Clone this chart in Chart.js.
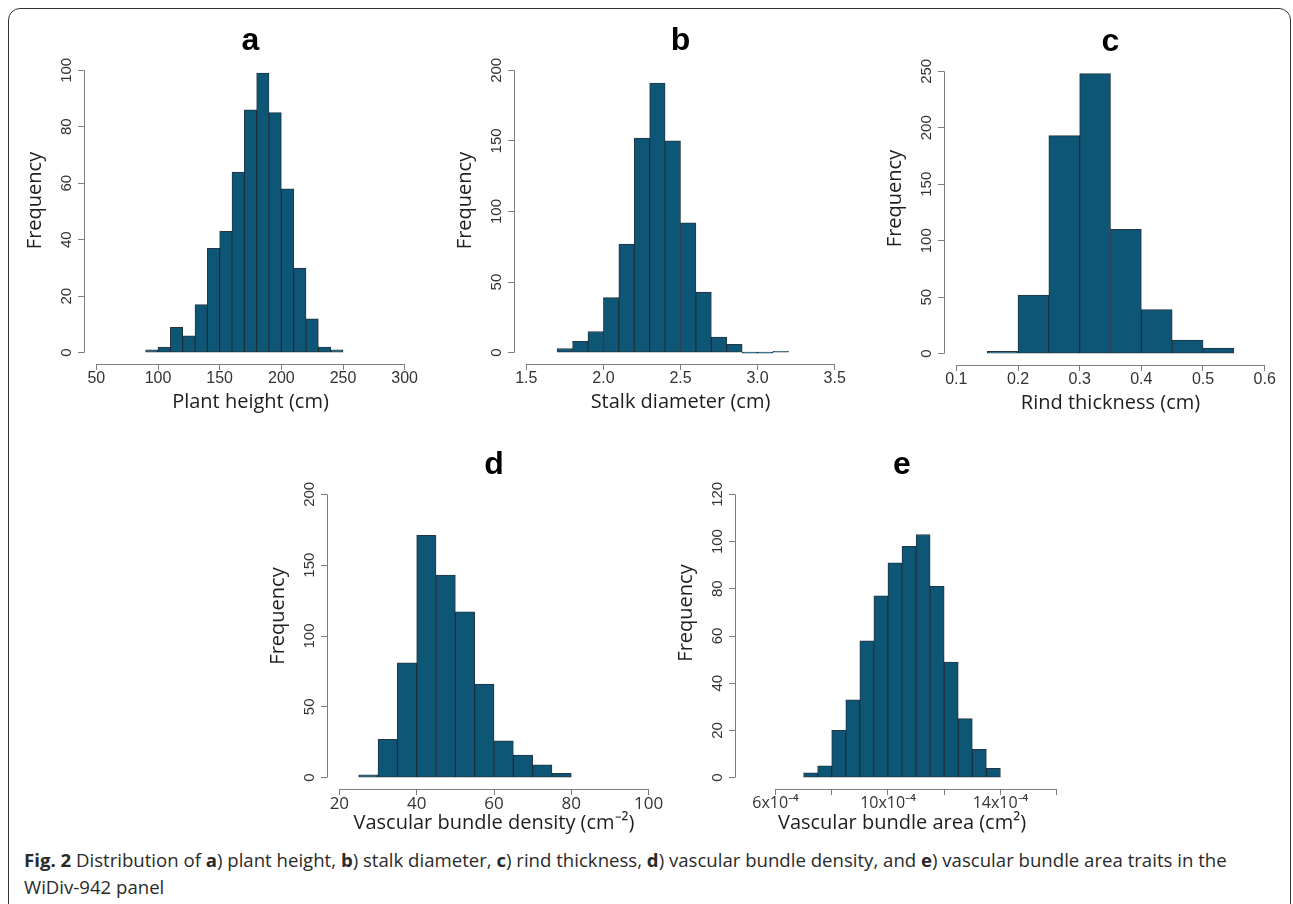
<!DOCTYPE html>
<html>
<head>
<meta charset="utf-8">
<title>Fig. 2 trait distributions</title>
<script src="https://cdn.jsdelivr.net/npm/chart.js@4.4.0/dist/chart.umd.min.js"></script>
<style>
    html, body { margin: 0; padding: 0; background: #fff; overflow: hidden; }
    body { width: 1293px; height: 904px; position: relative; font-family: "Open Sans", sans-serif; }
    .frame { position: absolute; left: 8px; top: 8px; width: 1281px; height: 940px; border: 1.5px solid #333; border-radius: 12px; }
    .panel { position: absolute; }
    .caption { position: absolute; left: 24px; top: 846px; font-size: 18.6px; line-height: 27px; color: #2a2a2a; white-space: nowrap; }
    .caption b { font-weight: 700; }
</style>
</head>
<body>
<div class="frame"></div>
<div class="panel" id="panel-a"><canvas id="chart-a"></canvas></div>
<div class="panel" id="panel-b"><canvas id="chart-b"></canvas></div>
<div class="panel" id="panel-c"><canvas id="chart-c"></canvas></div>
<div class="panel" id="panel-d"><canvas id="chart-d"></canvas></div>
<div class="panel" id="panel-e"><canvas id="chart-e"></canvas></div>
<div class="caption"><b>Fig. 2</b> Distribution of <b>a</b>) plant height, <b>b</b>) stalk diameter, <b>c</b>) rind thickness, <b>d</b>) vascular bundle density, and <b>e</b>) vascular bundle area traits in the<br>WiDiv-942 panel</div>

<script>
// a) plant height (cm)
var heightEdges = [90, 100, 110, 120, 130, 140, 150, 160, 170, 180, 190, 200, 210, 220, 230, 240, 250];
var heightCounts = [1, 2, 9, 6, 17, 37, 43, 64, 86, 99, 85, 58, 30, 12, 2, 1];
var heightXTicks = [50, 100, 150, 200, 250, 300];
var heightXLabels = ['50', '100', '150', '200', '250', '300'];
var heightYTicks = [0, 20, 40, 60, 80, 100];

// b) stalk diameter (cm)
var stalkEdges = [1.7, 1.8, 1.9, 2.0, 2.1, 2.2, 2.3, 2.4, 2.5, 2.6, 2.7, 2.8, 2.9, 3.0, 3.1, 3.2];
var stalkCounts = [3, 8, 15, 39, 77, 152, 191, 150, 92, 43, 11, 6, 0, 0, 1];
var stalkXTicks = [1.5, 2.0, 2.5, 3.0, 3.5];
var stalkXLabels = ['1.5', '2.0', '2.5', '3.0', '3.5'];
var stalkYTicks = [0, 50, 100, 150, 200];

// c) rind thickness (cm)
var rindEdges = [0.15, 0.2, 0.25, 0.3, 0.35, 0.4, 0.45, 0.5, 0.55];
var rindCounts = [2, 52, 193, 248, 110, 39, 12, 5];
var rindXTicks = [0.1, 0.2, 0.3, 0.4, 0.5, 0.6];
var rindXLabels = ['0.1', '0.2', '0.3', '0.4', '0.5', '0.6'];
var rindYTicks = [0, 50, 100, 150, 200, 250];

// d) vascular bundle density (cm-2)
var densityEdges = [25, 30, 35, 40, 45, 50, 55, 60, 65, 70, 75, 80];
var densityCounts = [2, 27, 81, 171, 143, 117, 66, 26, 16, 9, 3];
var densityXTicks = [20, 40, 60, 80, 100];
var densityXLabels = ['20', '40', '60', '80', '100'];
var densityYTicks = [0, 50, 100, 150, 200];

// e) vascular bundle area (cm2)
var areaEdges = [7.0e-4, 7.5e-4, 8.0e-4, 8.5e-4, 9.0e-4, 9.5e-4, 10.0e-4, 10.5e-4, 11.0e-4, 11.5e-4, 12.0e-4, 12.5e-4, 13.0e-4, 13.5e-4, 14.0e-4];
var areaCounts = [2, 5, 20, 33, 58, 77, 91, 98, 103, 81, 49, 25, 12, 4];
var areaXTicks = [6e-4, 8e-4, 10e-4, 12e-4, 14e-4, 16e-4];
var areaXLabels = ['6x10\u207B\u2074', '', '10x10\u207B\u2074', '', '14x10\u207B\u2074', ''];
var areaYTicks = [0, 20, 40, 60, 80, 100, 120];

var BAR_FILL = '#0e5676';
var BAR_EDGE = 'rgba(12, 32, 45, 0.9)';
var AXIS_COLOR = '#7d7d7d';
var TICK_TEXT = '#333333';
var LABEL_TEXT = '#1e1e1e';

/**
 * R-style axes: lines only from first to last tick, rotated y labels
 */
var rAxesPlugin = {
    id: 'rAxes',
    afterDraw: function(chart, args, opts) {
        var ctx = chart.ctx;
        var area = chart.chartArea;
        var xs = chart.scales.x;
        var ys = chart.scales.y;
        var xLast = xs.ticks.length - 1;
        var yLast = ys.ticks.length - 1;

        ctx.save();
        ctx.strokeStyle = AXIS_COLOR;
        ctx.lineWidth = 1;
        ctx.beginPath();
        var xb = Math.round(area.bottom) + 0.5;
        ctx.moveTo(xs.getPixelForValue(xs.ticks[0].value), xb);
        ctx.lineTo(xs.getPixelForValue(xs.ticks[xLast].value), xb);
        var yl = Math.round(area.left) + 0.5;
        ctx.moveTo(yl, ys.getPixelForValue(ys.ticks[0].value));
        ctx.lineTo(yl, ys.getPixelForValue(ys.ticks[yLast].value));
        ctx.stroke();

        // y tick labels, turned like in R
        ctx.fillStyle = TICK_TEXT;
        ctx.font = '15px "Liberation Sans", Arial, sans-serif';
        ctx.textAlign = 'center';
        ctx.textBaseline = 'middle';
        ys.ticks.forEach(function(t) {
            ctx.save();
            ctx.translate(area.left - 17.5, ys.getPixelForValue(t.value));
            ctx.rotate(-Math.PI / 2);
            ctx.fillText(String(t.value), 0, 0);
            ctx.restore();
        });

        // y axis title
        ctx.fillStyle = LABEL_TEXT;
        ctx.font = '20px "Open Sans", sans-serif';
        ctx.translate(area.left - 48.5, (area.top + area.bottom) / 2 - opts.shift);
        ctx.rotate(-Math.PI / 2);
        ctx.fillText(opts.text, 0, 0);
        ctx.restore();
    }
};

function histChart(cfg) {
    var box = document.getElementById(cfg.box);
    box.style.left = (cfg.left - 75) + 'px';
    box.style.top = (cfg.top - 50) + 'px';
    box.style.width = (75 + cfg.width + 30) + 'px';
    box.style.height = (50 + cfg.height + cfg.below) + 'px';

    var points = [];
    for (var i = 0; i < cfg.counts.length; i++) {
        points.push({ x: (cfg.edges[i] + cfg.edges[i + 1]) / 2, y: cfg.counts[i] });
    }

    var xPad = (cfg.xlim[1] - cfg.xlim[0]) * 0.04;
    var yTop = cfg.yTicks[cfg.yTicks.length - 1];
    var yPad = yTop * 0.04;

    return new Chart(document.getElementById(cfg.canvas), {
        type: 'bar',
        data: {
            datasets: [{
                data: points,
                backgroundColor: BAR_FILL,
                borderColor: BAR_EDGE,
                borderWidth: 1,
                borderSkipped: false,
                minBarLength: 1,
                barPercentage: 1,
                categoryPercentage: 1
            }]
        },
        plugins: [rAxesPlugin],
        options: {
            responsive: true,
            maintainAspectRatio: false,
            animation: false,
            layout: { padding: { left: 0, right: 30, top: 0, bottom: 0 }, autoPadding: false },
            plugins: {
                legend: { display: false },
                tooltip: { enabled: false },
                title: {
                    display: true,
                    text: cfg.letter,
                    fullSize: false,
                    color: '#000',
                    font: { family: '"Liberation Sans", Arial, sans-serif', size: 32, weight: 'bold', lineHeight: 1 },
                    padding: { top: 16, bottom: 2 }
                },
                rAxes: { text: 'Frequency', shift: cfg.yShift }
            },
            scales: {
                x: {
                    type: 'linear',
                    offset: false,
                    min: cfg.xlim[0] - xPad,
                    max: cfg.xlim[1] + xPad,
                    afterBuildTicks: function(scale) {
                        scale.ticks = cfg.xTicks.map(function(v) { return { value: v }; });
                    },
                    afterFit: function(scale) { scale.height = cfg.below; },
                    border: { display: false },
                    grid: { display: true, offset: false, drawOnChartArea: false, drawTicks: true, tickLength: 6, color: AXIS_COLOR },
                    ticks: {
                        autoSkip: false,
                        maxRotation: 0,
                        padding: -1,
                        color: TICK_TEXT,
                        font: cfg.tickFont,
                        callback: function(value, index) { return cfg.xLabels[index]; }
                    },
                    title: {
                        display: true,
                        text: cfg.xTitle,
                        color: LABEL_TEXT,
                        font: { family: '"Open Sans", sans-serif', size: 20, lineHeight: 1.2 },
                        padding: 0
                    }
                },
                y: {
                    type: 'linear',
                    min: -yPad,
                    max: yTop + yPad,
                    afterBuildTicks: function(scale) {
                        scale.ticks = cfg.yTicks.map(function(v) { return { value: v }; });
                    },
                    afterFit: function(scale) { scale.width = 75; },
                    border: { display: false },
                    grid: { display: true, drawOnChartArea: false, drawTicks: true, tickLength: 6, color: AXIS_COLOR },
                    ticks: { display: false }
                }
            }
        }
    });
}

var arialTicks = { family: '"Liberation Sans", Arial, sans-serif', size: 16 };

histChart({ box: 'panel-a', canvas: 'chart-a', letter: 'a', left: 84.4, top: 59, width: 333, height: 305, below: 50,
    yShift: 11, edges: heightEdges, counts: heightCounts, xlim: [50, 300], xTicks: heightXTicks, xLabels: heightXLabels,
    yTicks: heightYTicks, xTitle: 'Plant height (cm)', tickFont: arialTicks });

histChart({ box: 'panel-b', canvas: 'chart-b', letter: 'b', left: 514.3, top: 59, width: 333, height: 305, below: 50,
    yShift: 11, edges: stalkEdges, counts: stalkCounts, xlim: [1.5, 3.5], xTicks: stalkXTicks, xLabels: stalkXLabels,
    yTicks: stalkYTicks, xTitle: 'Stalk diameter (cm)', tickFont: arialTicks });

histChart({ box: 'panel-c', canvas: 'chart-c', letter: 'c', left: 944.4, top: 60, width: 333, height: 305, below: 50,
    yShift: 14, edges: rindEdges, counts: rindCounts, xlim: [0.1, 0.6], xTicks: rindXTicks, xLabels: rindXLabels,
    yTicks: rindYTicks, xTitle: 'Rind thickness (cm)', tickFont: arialTicks });

histChart({ box: 'panel-d', canvas: 'chart-d', letter: 'd', left: 326.6, top: 483, width: 334, height: 306, below: 46,
    yShift: 20, edges: densityEdges, counts: densityCounts, xlim: [20, 100], xTicks: densityXTicks, xLabels: densityXLabels,
    yTicks: densityYTicks, xTitle: 'Vascular bundle density (cm\u207B\u00B2)', tickFont: { family: '"Open Sans", sans-serif', size: 17 } });

histChart({ box: 'panel-e', canvas: 'chart-e', letter: 'e', left: 735, top: 483, width: 334, height: 306, below: 46,
    yShift: 23, edges: areaEdges, counts: areaCounts, xlim: [5e-4, 16e-4], xTicks: areaXTicks, xLabels: areaXLabels,
    yTicks: areaYTicks, xTitle: 'Vascular bundle area (cm\u00B2)', tickFont: { family: '"Open Sans", sans-serif', size: 16 } });
</script>
</body>
</html>
